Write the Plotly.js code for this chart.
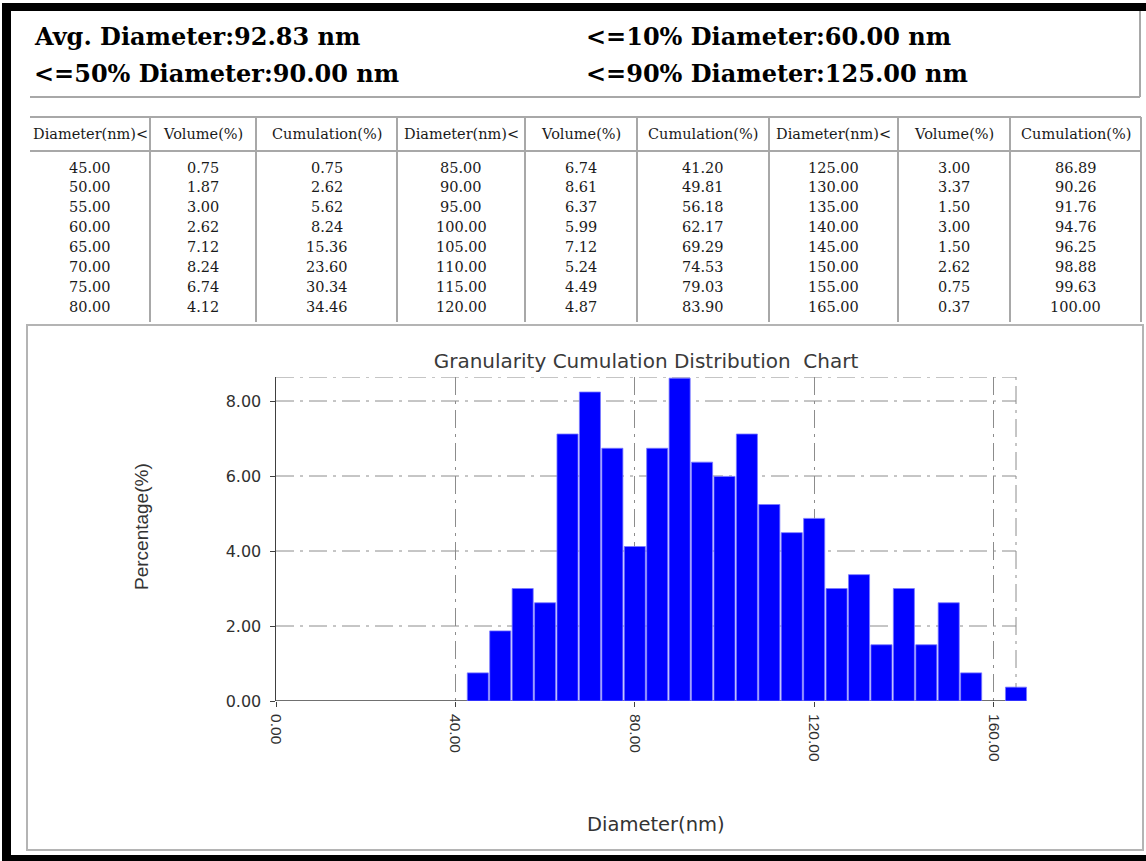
<!DOCTYPE html>
<html>
<head>
<meta charset="utf-8">
<script src="https://cdn.plot.ly/plotly-3.0.1.min.js"></script>
<style>
html,body{margin:0;padding:0;background:#ffffff;}
#chart{width:1146px;height:861px;}
</style>
</head>
<body>
<div id="chart"></div>
<script>
// ---------- data ----------
const diameters = [45,50,55,60,65,70,75,80,85,90,95,100,105,110,115,120,125,130,135,140,145,150,155,165];
const volumes = [0.75,1.87,3.00,2.62,7.12,8.24,6.74,4.12,6.74,8.61,6.37,5.99,7.12,5.24,4.49,4.87,3.00,3.37,1.50,3.00,1.50,2.62,0.75,0.37];
const cumulations = [0.75,2.62,5.62,8.24,15.36,23.60,30.34,34.46,41.20,49.81,56.18,62.17,69.29,74.53,79.03,83.90,86.89,90.26,91.76,94.76,96.25,98.88,99.63,100.00];
const tableHeaders = ['Diameter(nm)&lt;', 'Volume(%)', 'Cumulation(%)'];
const summaryLabels = ['Avg. Diameter', '&lt;=10% Diameter', '&lt;=50% Diameter', '&lt;=90% Diameter'];
const summaryValues = [92.83, 60.00, 90.00, 125.00];
const chartTitle = 'Granularity Cumulation Distribution  Chart';
const xTitle = 'Diameter(nm)';
const yTitle = 'Percentage(%)';
const xFrameMax = 165;   // right edge of the chart frame (largest diameter)
const yFrameMax = 8.64;  // top edge of the chart frame
const yGridValues = [2, 4, 6, 8];

// ---------- page geometry ----------
const W = 1146, H = 861;
const fx = p => p / W;
const fy = p => 1 - p / H;
const plotL = 276, plotR = 1016, plotT = 377, plotB = 701;
const xViewMax = 168; // a little room so the last bar is not clipped
const plotRExt = plotL + (plotR - plotL) * xViewMax / xFrameMax;

const annotations = [];
const shapes = [];

function rectPx(x0, y0, x1, y1, fill, line, lw) {
  shapes.push({type: 'rect', xref: 'paper', yref: 'paper',
    x0: fx(x0), x1: fx(x1), y0: fy(y0), y1: fy(y1),
    fillcolor: fill || 'rgba(0,0,0,0)',
    line: {color: line || 'rgba(0,0,0,0)', width: lw || 0}, layer: 'above'});
}
function linePx(x0, y0, x1, y1, color, width) {
  shapes.push({type: 'line', xref: 'paper', yref: 'paper',
    x0: fx(x0), x1: fx(x1), y0: fy(y0), y1: fy(y1),
    line: {color: color, width: width}, layer: 'above'});
}
// black frame bands
rectPx(2, 3, 11, 861, '#000000');
rectPx(2, 3, 1146, 11, '#000000');
rectPx(2, 855, 1146, 861, '#000000');

// header box
const grayLine = '#a8a8a8';
linePx(30, 97, 1140, 97, grayLine, 2);
linePx(1140, 11, 1140, 97, grayLine, 2);

// summary texts
const summaryPos = [[32, 37], [584, 37], [32, 74], [584, 74]];
summaryLabels.forEach((lab, i) => {
  annotations.push({xref: 'paper', yref: 'paper', x: fx(summaryPos[i][0]), y: fy(summaryPos[i][1]),
    xanchor: 'left', yanchor: 'middle', showarrow: false,
    text: '<b>' + lab + ':' + summaryValues[i].toFixed(2) + ' nm</b>',
    font: {family: 'DejaVu Serif', size: 24, color: '#000000'}});
});

// table
const colEdges = [30, 150, 256, 397, 525, 637, 769, 898, 1010, 1141];
const tTop = 117, tHead = 151, tBottom = 322;
linePx(30, tTop, 1141, tTop, grayLine, 2);
linePx(30, tHead, 1141, tHead, grayLine, 2);
for (let c = 1; c < colEdges.length; c++) {
  linePx(colEdges[c], tTop, colEdges[c], tBottom, grayLine, 2);
}
const rowsPerGroup = 8;
const headY = 134, rowY0 = 167.5, rowStep = 19.93;
const tableFont = {family: 'DejaVu Serif', size: 14.5, color: '#1a1a1a'};
for (let g = 0; g < 3; g++) {
  for (let k = 0; k < 3; k++) {
    const c = g * 3 + k;
    const cx = (colEdges[c] + colEdges[c + 1]) / 2;
    annotations.push({xref: 'paper', yref: 'paper', x: fx(cx), y: fy(headY),
      xanchor: 'center', yanchor: 'middle', showarrow: false,
      text: tableHeaders[k], font: tableFont});
    const src = [diameters, volumes, cumulations][k];
    for (let r = 0; r < rowsPerGroup; r++) {
      const idx = g * rowsPerGroup + r;
      annotations.push({xref: 'paper', yref: 'paper', x: fx(cx), y: fy(rowY0 + r * rowStep),
        xanchor: 'center', yanchor: 'middle', showarrow: false,
        text: src[idx].toFixed(2), font: tableFont});
    }
  }
}

// chart box
rectPx(27, 325, 1143, 850, null, '#b4b4b4', 2);

// plot frame and horizontal grid (dash-dot), stopping at the frame edge
const gridColor = '#8c8c8c';
const frameDash = '18px,6px,3px,6px';
yGridValues.forEach(v => {
  shapes.push({type: 'line', xref: 'x', yref: 'y', x0: 0, x1: xFrameMax, y0: v, y1: v,
    line: {color: gridColor, width: 1, dash: frameDash}, layer: 'below'});
});
shapes.push({type: 'line', xref: 'x', yref: 'y', x0: 0, x1: xFrameMax, y0: yFrameMax, y1: yFrameMax,
  line: {color: gridColor, width: 1, dash: frameDash}, layer: 'below'});
shapes.push({type: 'line', xref: 'x', yref: 'y', x0: xFrameMax, x1: xFrameMax, y0: 0, y1: yFrameMax,
  line: {color: gridColor, width: 1, dash: frameDash}, layer: 'below'});
// x axis baseline up to the frame edge
const axisColor = '#404040';
shapes.push({type: 'line', xref: 'x', yref: 'y', x0: 0, x1: xFrameMax, y0: 0, y1: 0,
  line: {color: axisColor, width: 1.5}, layer: 'between'});

// axis titles
annotations.push({xref: 'paper', yref: 'paper', x: fx(141), y: fy(527),
  xanchor: 'center', yanchor: 'middle', showarrow: false, textangle: -90,
  text: yTitle, font: {family: 'Liberation Sans', size: 19, color: '#333333'}});
annotations.push({xref: 'paper', yref: 'paper', x: fx(656), y: fy(824),
  xanchor: 'center', yanchor: 'middle', showarrow: false,
  text: xTitle, font: {family: 'DejaVu Sans', size: 19.5, color: '#333333'}});

const trace = {
  type: 'bar', x: diameters, y: volumes,
  marker: {color: '#0000ff', line: {color: '#7a7aff', width: 0.8}},
  hoverinfo: 'skip', showlegend: false
};

const layout = {
  width: W, height: H,
  margin: {l: 0, r: 0, t: 0, b: 0},
  paper_bgcolor: '#ffffff', plot_bgcolor: 'rgba(0,0,0,0)',
  bargap: 0.06,
  showlegend: false,
  title: {text: chartTitle, x: (fx(plotL) + fx(plotR)) / 2, y: fy(361),
    xref: 'paper', yref: 'paper', xanchor: 'center', yanchor: 'middle',
    font: {family: 'DejaVu Sans', size: 20, color: '#3a3a3a'}},
  xaxis: {
    domain: [fx(plotL), fx(plotRExt)], range: [0, xViewMax],
    tick0: 0, dtick: 40, tickformat: '.2f', tickangle: 90,
    ticks: 'outside', ticklen: 5, tickwidth: 1, tickcolor: axisColor,
    ticklabelstandoff: 4,
    showline: false,
    showgrid: true, gridcolor: gridColor, gridwidth: 1, griddash: frameDash,
    zeroline: false, automargin: false, fixedrange: true,
    tickfont: {family: 'Liberation Sans', size: 15.5, color: '#303030'}
  },
  yaxis: {
    domain: [fy(plotB), fy(plotT)], range: [0, yFrameMax],
    tick0: 0, dtick: 2, tickformat: '.2f',
    ticks: 'outside', ticklen: 5, tickwidth: 1, tickcolor: axisColor,
    ticklabelstandoff: 5,
    showline: true, linecolor: axisColor, linewidth: 1.5,
    showgrid: false,
    zeroline: false, automargin: false, fixedrange: true,
    tickfont: {family: 'DejaVu Sans', size: 16, color: '#303030'}
  },
  shapes: shapes,
  annotations: annotations
};

Plotly.newPlot('chart', [trace], layout, {staticPlot: true, displayModeBar: false});
</script>
</body>
</html>
